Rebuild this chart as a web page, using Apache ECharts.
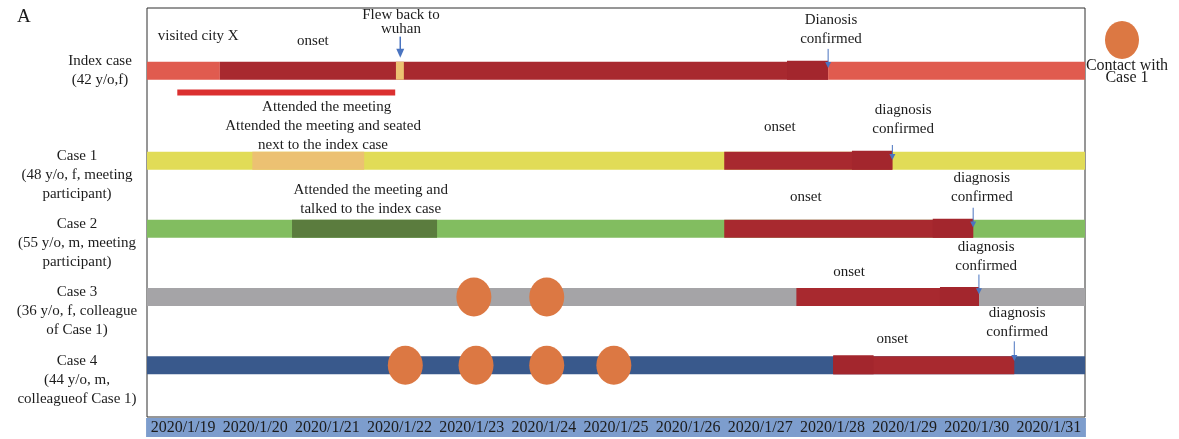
<!DOCTYPE html>
<html><head><meta charset="utf-8">
<script src="https://cdn.jsdelivr.net/npm/echarts@6/dist/echarts.min.js"></script>
<style>html,body{margin:0;padding:0;background:#fff}#c{width:1179px;height:439px}</style>
</head><body><div id="c"></div>
<script>
// ---------------- DATA ----------------
const dates = ['2020/1/19','2020/1/20','2020/1/21','2020/1/22','2020/1/23','2020/1/24','2020/1/25',
               '2020/1/26','2020/1/27','2020/1/28','2020/1/29','2020/1/30','2020/1/31'];
const caseNames = [
  'Index case\n(42 y/o,f)',
  'Case 1\n(48 y/o, f, meeting\nparticipant)',
  'Case 2\n(55 y/o, m, meeting\nparticipant)',
  'Case 3\n(36 y/o, f, colleague\nof Case 1)',
  'Case 4\n(44 y/o, m,\ncolleagueof Case 1)'
];
// row value (y axis) of each case
const caseRows = [-0.32, 1, 2, 3, 4];
const meetingRow = 0;
// span of the meeting (days from 2020/1/19 00:00)
const meetingSpan = [0.42, 3.44];
// segments: [caseIndex, startDay, endDay, kind]
const indexSegments = [[0,0,1.01,'visit'],[0,1.01,9.44,'ill'],[0,3.45,3.56,'flight'],[0,8.87,9.44,'illEnd'],[0,9.44,13,'visit']];
const case1Segments = [[1,0,13,'case1'],[1,1.46,3.01,'seated'],[1,8.0,10.33,'ill'],[1,9.77,10.33,'illEnd']];
const case2Segments = [[2,0,13,'case2'],[2,2.01,4.02,'talked'],[2,8.0,11.45,'ill'],[2,10.89,11.45,'illEnd']];
const case3Segments = [[3,0,13,'case3'],[3,9.0,11.53,'ill'],[3,10.99,11.53,'illEnd']];
const case4Segments = [[4,0,13,'case4'],[4,9.51,12.02,'ill'],[4,9.51,10.07,'illEnd']];
// contacts with case 1 (day positions)
const case3Contacts = [4.53, 5.54];
const case4Contacts = [3.58, 4.56, 5.54, 6.47];
// annotations: [day, rowValue, text, kind]
const annotations = [
  [0.71,-0.83,'visited city X','n'],
  [2.30,-0.76,'onset','n'],
  [3.52,-1.03,'Flew back to\nwuhan','t'],
  [9.48,-0.93,'Dianosis\nconfirmed','n'],
  [2.49,0.21,'Attended the meeting','n'],
  [2.44,0.63,'Attended the meeting and seated\nnext to the index case','n'],
  [8.77,0.50,'onset','n'],
  [10.48,0.40,'diagnosis\nconfirmed','n'],
  [3.10,1.57,'Attended the meeting and\ntalked to the index case','n'],
  [9.13,1.53,'onset','n'],
  [11.57,1.40,'diagnosis\nconfirmed','n'],
  [9.73,2.63,'onset','n'],
  [11.63,2.41,'diagnosis\nconfirmed','n'],
  [10.33,3.61,'onset','n'],
  [12.06,3.37,'diagnosis\nconfirmed','n']
];
// arrows: [day, fromRowValue, toRowValue, kind]
const arrows = [
  [3.51,-0.82,-0.51,'big'],
  [9.44,-0.64,-0.36,'thin'],
  [10.33,0.77,0.99,'thin'],
  [11.45,1.69,1.98,'thin'],
  [11.53,2.67,2.96,'thin'],
  [12.02,3.65,3.94,'thin']
];

// ---------------- STYLE ----------------
const colors = {
  visit:'#e05b4f', ill:'#a8292f', illEnd:'#a3262d', flight:'#ecc272',
  case1:'#e1dc57', seated:'#ecc172', case2:'#82bd60', talked:'#5b7c3e',
  case3:'#a5a4a7', case4:'#39598c'
};
const SERIF = '"Liberation Serif","DejaVu Serif",serif';
const TXT = '#1c1c1c';

const segments = [].concat(indexSegments, case1Segments, case2Segments, case3Segments, case4Segments);
const contactData = case3Contacts.map(d => [d, caseRows[3]]).concat(case4Contacts.map(d => [d, caseRows[4]]));

const chart = echarts.init(document.getElementById('c'), null, {renderer:'canvas'});
chart.setOption({
  animation:false,
  backgroundColor:'#fff',
  grid:{left:147, right:94, top:8, bottom:22, show:true, borderColor:'#2e2e2e', borderWidth:1, backgroundColor:'transparent'},
  xAxis:[
    {type:'value', min:0, max:13, show:false},
    {type:'category', data:dates, position:'bottom', boundaryGap:true,
     axisLine:{show:false}, axisTick:{show:false}, splitLine:{show:false},
     axisLabel:{interval:0, margin:1, fontFamily:SERIF, fontSize:16, color:TXT,
       backgroundColor:'#7d9dcd', width:74, height:19, lineHeight:20, align:'center', verticalAlign:'top', padding:0}}
  ],
  yAxis:{type:'value', min:-1.24, max:4.76, inverse:true, show:false},
  graphic:[
    {type:'text', left:17, top:8, style:{text:'A', font:'19px '+SERIF, fill:TXT}},
    {type:'ellipse', shape:{cx:1122, cy:40, rx:17, ry:19}, style:{fill:'#dc7843'}},
    {type:'text', x:1127, y:60, style:{text:'Contact with\nCase 1', font:'16px '+SERIF, fill:TXT, align:'center', lineHeight:12, verticalAlign:'top'}}
  ],
  series:[
    { // bars
      type:'custom', xAxisIndex:0, yAxisIndex:0, clip:false,
      data:segments.map(s => [s[1], s[2], caseRows[s[0]]]),
      renderItem(params, api){
        const s = segments[params.dataIndex];
        const a = api.coord([api.value(0), api.value(2)]);
        const b = api.coord([api.value(1), api.value(2)]);
        const h = s[3] === 'illEnd' ? 19 : 18;
        const off = s[3] === 'illEnd' ? -10 : -9;
        return {type:'rect', shape:{x:a[0], y:a[1]+off, width:b[0]-a[0], height:h}, style:{fill:colors[s[3]]}};
      }
    },
    { // meeting line
      type:'custom', xAxisIndex:0, yAxisIndex:0, clip:false,
      data:[[meetingSpan[0], meetingSpan[1], meetingRow]],
      renderItem(params, api){
        const a = api.coord([api.value(0), api.value(2)]);
        const b = api.coord([api.value(1), api.value(2)]);
        return {type:'rect', shape:{x:a[0], y:a[1]-3, width:b[0]-a[0], height:6}, style:{fill:'#db3030'}};
      }
    },
    { // contacts
      type:'scatter', xAxisIndex:0, yAxisIndex:0, symbol:'circle', symbolSize:[35,39],
      itemStyle:{color:'#dc7843', opacity:1}, data:contactData, silent:true
    },
    { // row labels
      type:'custom', xAxisIndex:0, yAxisIndex:0, clip:false,
      data:caseRows.map(r => [0, r]),
      renderItem(params, api){
        const p = api.coord([api.value(0), api.value(1)]);
        const i = params.dataIndex;
        const isIndex = i === 0;
        return {type:'text', x: isIndex ? p[0]-47 : p[0]-70, y: isIndex ? p[1]-19 : p[1]-14,
          style:{text:caseNames[i], fill:TXT, font:'15px '+SERIF, align:'center', verticalAlign:'top', lineHeight:19}};
      }
    },
    { // annotations
      type:'custom', xAxisIndex:0, yAxisIndex:0, clip:false,
      data:annotations.map(a => [a[0], a[1]]),
      renderItem(params, api){
        const a = annotations[params.dataIndex];
        const p = api.coord([api.value(0), api.value(1)]);
        return {type:'text', x:p[0], y:p[1],
          style:{text:a[2], fill:TXT, font:'15px '+SERIF, align:'center', verticalAlign:'middle', lineHeight: a[3]==='t' ? 14 : 19}};
      }
    },
    { // arrows
      type:'custom', xAxisIndex:0, yAxisIndex:0, clip:false,
      data:arrows.map(a => [a[0], a[1], a[2]]),
      renderItem(params, api){
        const big = arrows[params.dataIndex][3] === 'big';
        const p1 = api.coord([api.value(0), api.value(1)]);
        const p2 = api.coord([api.value(0), api.value(2)]);
        const hw = big ? 4 : 3, hh = big ? 9 : 6;
        return {type:'group', children:[
          {type:'line', shape:{x1:p1[0], y1:p1[1], x2:p2[0], y2:p2[1]-hh+1}, style:{stroke:'#4a74c0', lineWidth: big ? 1.5 : 1}},
          {type:'polygon', shape:{points:[[p2[0]-hw,p2[1]-hh],[p2[0]+hw,p2[1]-hh],[p2[0],p2[1]]]}, style:{fill:'#4a74c0'}}
        ]};
      }
    }
  ]
});
</script></body></html>
